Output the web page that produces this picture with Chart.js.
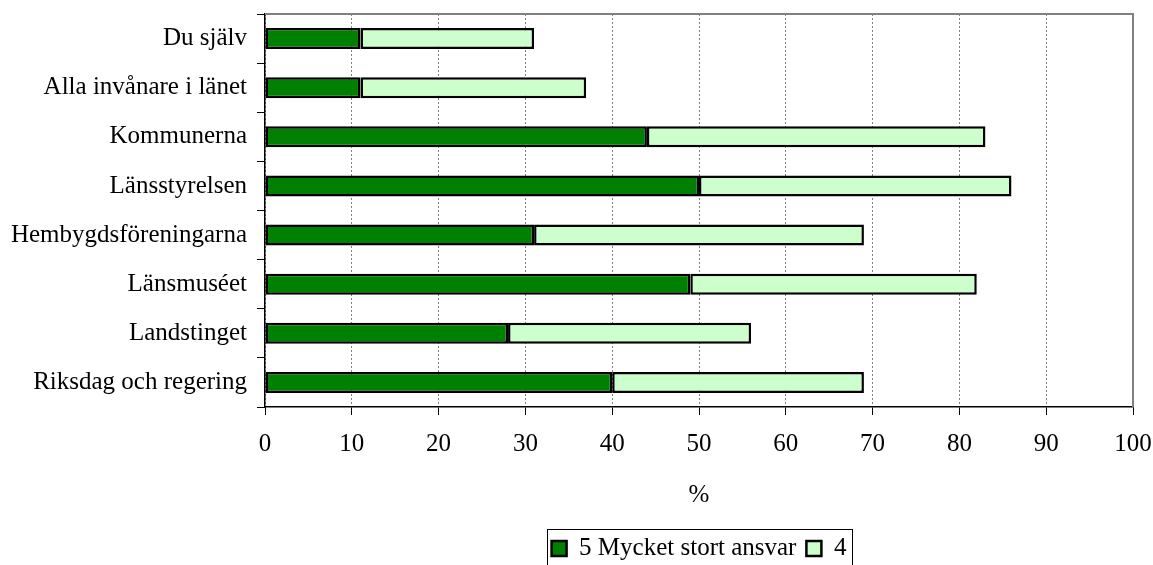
<!DOCTYPE html>
<html>
<head>
<meta charset="utf-8">
<script src="https://cdn.jsdelivr.net/npm/chart.js@4"></script>
<style>
  html, body { margin: 0; padding: 0; background: #fff; overflow: hidden; }
  #wrap { width: 1153px; height: 571px; position: relative; }
</style>
</head>
<body>
<div id="wrap"><canvas id="chart"></canvas></div>
<script>
'use strict';

// ─── Data ────────────────────────────────────────────────────────────────────

const CATEGORIES = [
  'Du själv',
  'Alla invånare i länet',
  'Kommunerna',
  'Länsstyrelsen',
  'Hembygdsföreningarna',
  'Länsmuséet',
  'Landstinget',
  'Riksdag och regering',
];
const SERIES_NAMES = ['5 Mycket stort ansvar', '4'];
const VALUES_5 = [11, 11, 44, 50, 31, 49, 28, 40];
const VALUES_4 = [20, 26, 39, 36, 38, 33, 28, 29];
const X_TICKS  = [0, 10, 20, 30, 40, 50, 60, 70, 80, 90, 100];

const FONT = { family: '"Liberation Serif", "Times New Roman", serif', size: 25 };
const LEGEND_PAD = 10;

// ─── Plugins ─────────────────────────────────────────────────────────────────

// gray frame on top and right of the plot area
const plotFrame = {
  id: 'plotFrame',
  beforeDatasetsDraw(chart) {
    const { ctx, chartArea: a } = chart;
    ctx.save();
    ctx.strokeStyle = '#808080';
    ctx.lineWidth = 2;
    ctx.beginPath();
    ctx.moveTo(a.left, a.top);
    ctx.lineTo(a.right, a.top);
    ctx.lineTo(a.right, a.bottom);
    ctx.stroke();
    ctx.restore();
  },
};

// thin black box round the legend items
const legendFrame = {
  id: 'legendFrame',
  afterDraw(chart) {
    const lg = chart.legend;
    if (!lg || !lg.legendHitBoxes.length) return;
    const hb = lg.legendHitBoxes;
    const left  = Math.min(...hb.map(h => h.left)) - 5;
    const right = Math.max(...hb.map(h => h.left + h.width)) + 5;
    const top   = lg.top + 3;
    const { ctx } = chart;
    ctx.save();
    ctx.strokeStyle = '#000';
    ctx.lineWidth = 1;
    ctx.strokeRect(Math.round(left) + 0.5, Math.round(top) + 0.5, Math.round(right - left), 60);
    ctx.restore();
  },
};

// ─── Chart ───────────────────────────────────────────────────────────────────

new Chart(document.getElementById('chart'), {
  type: 'bar',
  data: {
    labels: CATEGORIES,
    datasets: [
      {
        label: SERIES_NAMES[0],
        data: VALUES_5,
        backgroundColor: '#008000',
        borderColor: '#000',
        borderWidth: 2.5,
        borderSkipped: false,
      },
      {
        label: SERIES_NAMES[1],
        data: VALUES_4,
        backgroundColor: '#ccffcc',
        borderColor: '#000',
        borderWidth: 2.5,
        borderSkipped: false,
      },
    ],
  },
  options: {
    indexAxis: 'y',
    responsive: true,
    maintainAspectRatio: false,
    animation: false,
    datasets: { bar: { categoryPercentage: 1, barPercentage: 0.43 } },
    layout: { padding: { left: 0, top: 14, right: 20, bottom: 0 } },
    plugins: {
      tooltip: { enabled: false },
      legend: {
        position: 'bottom',
        fullSize: false,
        labels: {
          font: FONT,
          color: '#000',
          boxWidth: 15,
          boxHeight: 15,
          padding: LEGEND_PAD,
        },
      },
    },
    scales: {
      x: {
        stacked: true,
        min: 0,
        max: 100,
        afterBuildTicks: s => { s.ticks = X_TICKS.map(v => ({ value: v })); },
        afterFit: s => { s.height = 119; s.paddingLeft = 0; s.paddingRight = 0; },
        ticks: { font: FONT, color: '#000', padding: 14, maxRotation: 0 },
        grid: {
          color: '#808080',
          lineWidth: 1,
          tickColor: '#000',
          tickLength: 8,
        },
        border: { color: '#000', width: 1.5, dash: [2, 2] },
        title: { display: true, text: '%', font: FONT, color: '#000', padding: { top: 4, bottom: 16 } },
      },
      y: {
        stacked: true,
        afterFit: s => { s.width = 265; s.paddingTop = 0; s.paddingBottom = 0; },
        ticks: { font: FONT, color: '#000', padding: 10 },
        grid: {
          offset: true,
          drawOnChartArea: false,
          tickColor: '#000',
          tickLength: 8,
        },
        border: { color: '#000', width: 1.5 },
      },
    },
  },
  plugins: [plotFrame, legendFrame],
});
</script>
</body>
</html>
